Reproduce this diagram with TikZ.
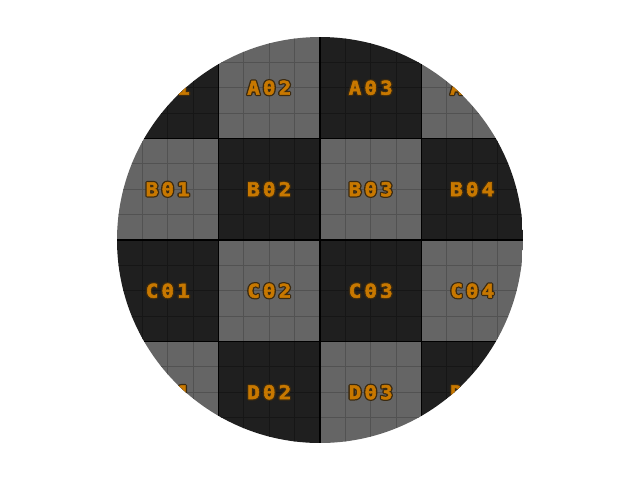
\documentclass[tikz,border=0pt]{standalone}
\usepackage{fontspec}
\newfontfamily\cellfont[LetterSpace=15, BoldFont={DejaVu Sans Mono Bold}]{DejaVu Sans Mono}

\definecolor{cellDark}{HTML}{1F1F1F}
\definecolor{cellLight}{HTML}{656565}
\definecolor{subDark}{HTML}{161616}
\definecolor{subLight}{HTML}{525252}
\definecolor{labOrange}{HTML}{C87800}
\definecolor{labEdge}{HTML}{3B2A10}

\tikzset{
  subrule/.style={line width=0.9pt},
  cellrule/.style={line width=1.3pt, black},
  lab/.style={inner sep=0pt, xscale=1.1, text=labOrange,
    font=\cellfont\bfseries\fontsize{19}{19}\selectfont},
  labrim/.style={lab, text=labEdge}
}

% glyph outlines: stroked (mode 1) for the rim, filled and stroked (mode 2) on top
\newcommand{\rimtext}[1]{%
  \special{pdf:literal direct 1 Tr 3 w 1 j}#1\special{pdf:literal direct 0 Tr}}
\newcommand{\bodytext}[1]{%
  \special{pdf:literal direct 2 Tr 0.5 w 1 j}#1\special{pdf:literal direct 0 Tr}}

% label with a dark rim: the outline first, then the orange text
\newcommand{\celllabel}[2]{%
  \node[labrim] at (#1) {\rimtext{#2}};
  \node[lab] (lab#1) at (#1) {\bodytext{#2}};
}

\begin{document}
\begin{tikzpicture}[x=1pt, y=-1pt]
  \useasboundingbox (0,0) rectangle (640,480);

  \begin{scope}
    % the disc cuts the 4x4 board
    \clip (320,240) circle (203);

    % ==================== cells ====================
    \foreach \r [count=\i from 0] in {A,B,C,D} {
      \foreach \c in {1,...,4} {
        \pgfmathsetmacro\xa{117+(\c-1)*101.5}
        \pgfmathsetmacro\ya{37+\i*101.5}
        \pgfmathtruncatemacro\k{\i+\c}
        \ifodd\k \def\cellfill{cellDark}\def\cellsub{subDark}%
        \else \def\cellfill{cellLight}\def\cellsub{subLight}\fi
        \fill[\cellfill] (\xa,\ya) rectangle ++(101.5,101.5);
        % fine grid inside the cell
        \foreach \s in {1,2,3} {
          \draw[subrule, \cellsub] (\xa+\s*25.375,\ya) -- ++(0,101.5);
          \draw[subrule, \cellsub] (\xa,\ya+\s*25.375) -- ++(101.5,0);
        }
        \coordinate (\r\c) at (\xa+50.75,\ya+50.75);
      }
    }

    % cell borders
    \foreach \s in {1,2,3} {
      \draw[cellrule] (117+\s*101.5,37) -- ++(0,406);
      \draw[cellrule] (117,37+\s*101.5) -- ++(406,0);
    }

    % ==================== labels ====================
    \foreach \r in {A,B,C,D} {
      \foreach \c in {1,...,4} {
        \celllabel{\r\c}{\r0\c}
      }
    }
  \end{scope}
\end{tikzpicture}
\end{document}
